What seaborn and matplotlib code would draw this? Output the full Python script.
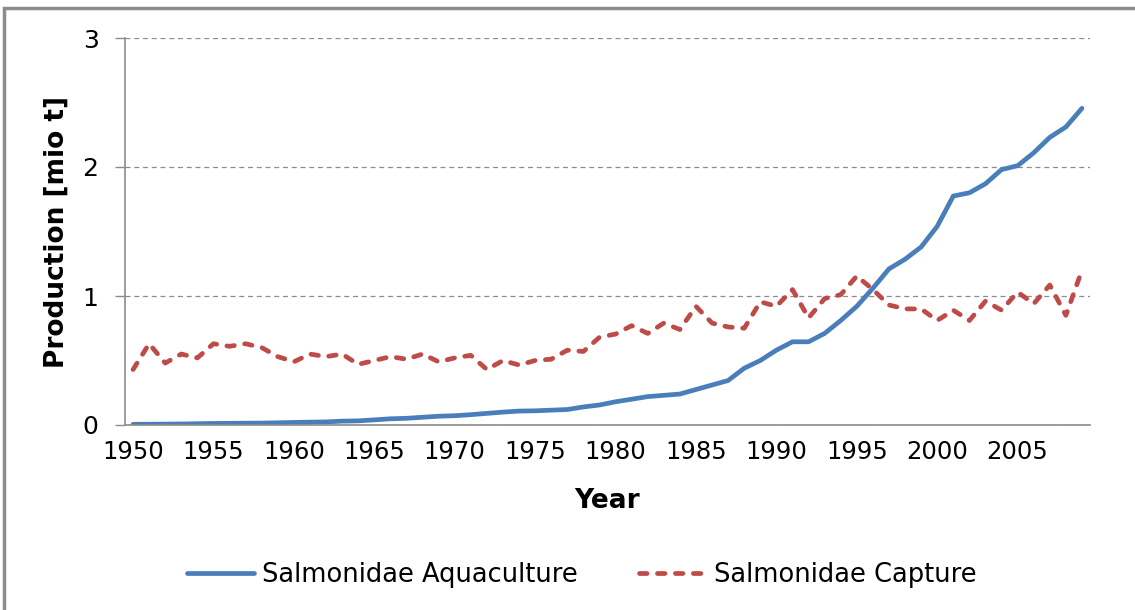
import matplotlib
matplotlib.use('Agg')
import matplotlib.pyplot as plt
import pandas as pd
import seaborn as sns
from matplotlib.patches import Rectangle

years=list(range(1950,2010))
aquaculture=[0.005,0.006,0.007,0.008,0.010,0.012,0.013,0.014,0.015,0.017,
             0.020,0.022,0.024,0.030,0.032,0.040,0.048,0.052,0.060,0.068,
             0.072,0.080,0.090,0.100,0.108,0.110,0.115,0.120,0.140,0.155,
             0.180,0.200,0.220,0.230,0.240,0.275,0.310,0.345,0.440,0.500,
             0.580,0.645,0.645,0.710,0.810,0.920,1.060,1.210,1.285,1.380,
             1.540,1.775,1.800,1.870,1.980,2.010,2.110,2.230,2.310,2.455]
capture=[0.43,0.63,0.48,0.55,0.52,0.63,0.61,0.63,0.60,0.53,
         0.49,0.55,0.53,0.55,0.47,0.50,0.53,0.51,0.55,0.49,
         0.52,0.54,0.43,0.50,0.465,0.50,0.51,0.58,0.57,0.68,
         0.705,0.77,0.71,0.79,0.74,0.92,0.79,0.76,0.75,0.955,
         0.92,1.05,0.83,0.98,1.01,1.155,1.05,0.93,0.90,0.90,
         0.81,0.89,0.81,0.96,0.89,1.03,0.94,1.085,0.85,1.20]
series_names=['Salmonidae Aquaculture','Salmonidae Capture']
year_ticks=list(range(1950,2010,5))
y_ticks=[0,1,2,3]

df=pd.DataFrame({'Year':years,series_names[0]:aquaculture,series_names[1]:capture})

sns.set_style("white")
plt.rcParams['font.family']=['DejaVu Sans']
plt.rcParams['text.color']='black'
plt.rcParams['axes.labelcolor']='black'
plt.rcParams['xtick.labelcolor']='black'
plt.rcParams['ytick.labelcolor']='black'

fig=plt.figure(figsize=(11.35,6.10),dpi=100)
ax=fig.add_axes([125/1135,1-425/610,965/1135,387/610])

# outer chart frame
fig.patches.append(Rectangle((4/1135,-0.05),1.1,1-8/610+0.05,transform=fig.transFigure,
                             fill=False,edgecolor='#8c8c8c',linewidth=2.5))

sns.lineplot(data=df,x='Year',y=series_names[0],ax=ax,color='#4A7EBB',lw=3.4,
             label=series_names[0],solid_capstyle='round',solid_joinstyle='round')
sns.lineplot(data=df,x='Year',y=series_names[1],ax=ax,color='#BE4B48',lw=3.4,
             label=series_names[1],dashes=(1.6,2.2),dash_capstyle='round')

ax.set_xlim(1949.5,2009.5)
ax.set_ylim(0,3)
ax.set_xticks(year_ticks)
ax.set_xticklabels([str(y) for y in year_ticks],fontsize=17.5)
ax.set_xticks([y-0.5 for y in year_ticks]+[2009.5],minor=True)
ax.tick_params(axis='x',which='major',length=0,pad=11)
ax.tick_params(axis='x',which='minor',length=7,color='#8c8c8c',direction='out',width=1)
ax.set_yticks(y_ticks)
ax.set_yticklabels([str(v) for v in y_ticks],fontsize=18)
ax.tick_params(axis='y',length=7,color='#8c8c8c',direction='out',width=1,pad=12,left=True)
ax.yaxis.grid(True,linestyle=(0,(4,3)),color='#8c8c8c',lw=0.9)

for s in ['top','right']:
    ax.spines[s].set_visible(False)
for s in ['left','bottom']:
    ax.spines[s].set_color('#8c8c8c')
    ax.spines[s].set_linewidth(1.2)

ax.set_xlabel('Year',fontsize=19,fontweight='bold',labelpad=17)
ax.set_ylabel('Production [mio t]',fontsize=19,fontweight='bold')
ax.yaxis.set_label_coords(-0.057,0.5)

ax.get_legend().remove()
h,l=ax.get_legend_handles_labels()
fig.legend(h,l,loc='center',bbox_to_anchor=(582/1135,1-575/610),ncol=2,frameon=False,
           fontsize=18.5,handlelength=2.6,handletextpad=0.3,columnspacing=2.4)

fig.savefig('out.png',dpi=100)
